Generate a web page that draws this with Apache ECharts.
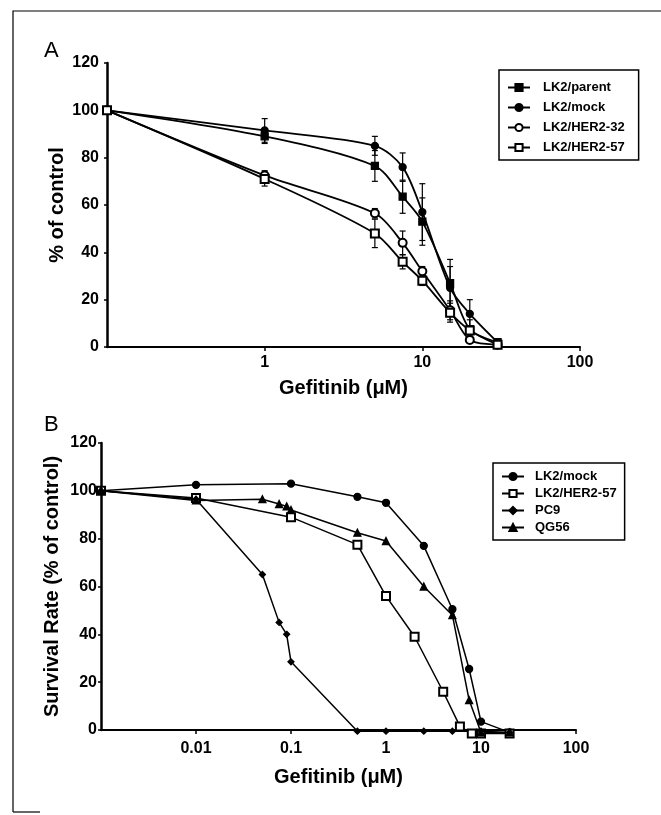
<!DOCTYPE html>
<html>
<head>
<meta charset="utf-8">
<script src="https://cdn.jsdelivr.net/npm/echarts@6/dist/echarts.min.js"></script>
<style>
html,body{margin:0;padding:0;background:#fff;}
#chart{width:661px;height:815px;}
</style>
</head>
<body>
<div id="chart"></div>
<script>
// panel A : doses and % of control (mean, error)
var doseA = [0.1, 1, 5, 7.5, 10, 15, 20, 30];
var parentA = [100, 89, 76.5, 63.5, 53, 27, 7.5, 2];
var parentErrA = [0, 3, 6.5, 7, 10, 10, 4, 0];
var mockA = [100, 91.5, 85, 76, 57, 25, 14, 2];
var mockErrA = [0, 5, 4, 6, 12, 9, 6, 0];
var her32A = [100, 72.5, 56.5, 44, 32, 15.5, 3, 1];
var her32ErrA = [0, 2, 2, 5, 2, 4, 1, 0];
var her57A = [100, 71, 48, 36, 28, 14.5, 7, 1];
var her57ErrA = [0, 3, 6, 3, 2, 4, 2, 0];

// panel B : survival rate
var mockDoseB = [0.001, 0.01, 0.1, 0.5, 1, 2.5, 5, 7.5, 10, 20];
var mockB = [100, 102.5, 103, 97.5, 95, 77, 50.5, 25.5, 3.5, -1];
var her57DoseB = [0.001, 0.01, 0.1, 0.5, 1, 2, 4, 6, 8, 10, 20];
var her57B = [100, 97, 89, 77.5, 56, 39, 16, 1.5, -1.5, -1.5, -1.5];
var pc9DoseB = [0.001, 0.01, 0.05, 0.075, 0.09, 0.1, 0.5, 1, 2.5, 5, 10, 20];
var pc9B = [100, 96.5, 65, 45, 40, 28.5, -0.5, -0.5, -0.5, -0.5, -0.5, -1];
var qgDoseB = [0.001, 0.01, 0.05, 0.075, 0.09, 0.1, 0.5, 1, 2.5, 5, 7.5, 10, 20];
var qgB = [100, 96, 96.5, 94.5, 93.5, 92, 82.5, 79, 60, 48, 12.5, -1, -1];

function pairs(xs, ys) {
    var out = [];
    for (var i = 0; i < xs.length; i++) {
        out.push([xs[i], ys[i]]);
    }
    return out;
}
function errPairs(xs, ys, es) {
    var out = [];
    for (var i = 0; i < xs.length; i++) {
        if (es[i] > 0) out.push([xs[i], ys[i] - es[i], ys[i] + es[i]]);
    }
    return out;
}
function errSeries(name, data) {
    return {
        type: 'custom',
        name: name + ' err',
        xAxisIndex: 0,
        yAxisIndex: 0,
        z: 1,
        silent: true,
        data: data,
        renderItem: function (params, api) {
            var lo = api.coord([api.value(0), api.value(1)]);
            var hi = api.coord([api.value(0), api.value(2)]);
            var w = 3;
            var st = {stroke: '#000', lineWidth: 1.2};
            return {
                type: 'group',
                children: [
                    {type: 'line', shape: {x1: lo[0], y1: lo[1], x2: hi[0], y2: hi[1]}, style: st},
                    {type: 'line', shape: {x1: lo[0] - w, y1: lo[1], x2: lo[0] + w, y2: lo[1]}, style: st},
                    {type: 'line', shape: {x1: hi[0] - w, y1: hi[1], x2: hi[0] + w, y2: hi[1]}, style: st}
                ]
            };
        }
    };
}
function lineSeries(name, data, ax, symbol, size, smooth) {
    return {
        type: 'line',
        name: name,
        xAxisIndex: ax,
        yAxisIndex: ax,
        data: data,
        smooth: smooth,
        symbol: symbol,
        symbolSize: size,
        clip: false,
        z: 3,
        lineStyle: {color: '#000', width: ax === 0 ? 1.8 : 1.5},
        itemStyle: {color: '#000', borderColor: '#000', borderWidth: 1.3}
    };
}

var boldFont = {fontFamily: 'Liberation Sans, Arial, sans-serif', fontWeight: 'bold', color: '#000'};

function xAxisCfg(idx, min, nameGap, labelMargin) {
    return {
        type: 'log',
        logBase: 10,
        gridIndex: idx,
        min: min,
        max: 100,
        name: 'Gefitinib (\u03bcM)',
        nameLocation: 'middle',
        nameGap: nameGap,
        nameMoveOverlap: false,
        nameTextStyle: Object.assign({fontSize: 20}, boldFont),
        axisLine: {lineStyle: {color: '#000', width: 2}},
        axisTick: {length: 4, lineStyle: {color: '#000', width: 1.5}},
        splitLine: {show: false},
        axisLabel: Object.assign({fontSize: 16, margin: labelMargin, showMinLabel: false,
            formatter: function (v) { return v === min ? '' : String(+v.toPrecision(3)); }}, boldFont)
    };
}
function yAxisCfg(idx, name, nameGap, labelMargin) {
    return {
        type: 'value',
        gridIndex: idx,
        min: 0,
        max: 120,
        interval: 20,
        name: name,
        nameLocation: 'middle',
        nameGap: nameGap,
        nameMoveOverlap: false,
        nameTextStyle: Object.assign({fontSize: 20}, boldFont),
        axisLine: {show: true, lineStyle: {color: '#000', width: 2.5}},
        axisTick: {show: true, length: 3, lineStyle: {color: '#000', width: 1.5}},
        splitLine: {show: false},
        axisLabel: Object.assign({fontSize: 16, margin: labelMargin}, boldFont)
    };
}

var chart = echarts.init(document.getElementById('chart'));
var option = {
    backgroundColor: '#fff',
    animation: false,
    grid: [
        {left: 107, top: 63, width: 473, height: 284},
        {left: 101, top: 443, width: 475, height: 287}
    ],
    xAxis: [xAxisCfg(0, 0.1, 31, 8), xAxisCfg(1, 0.001, 37, 11)],
    yAxis: [yAxisCfg(0, '% of control', 40, 8), yAxisCfg(1, 'Survival Rate (% of control)', 39, 4)],
    legend: [
        {
            data: ['LK2/parent', 'LK2/mock', 'LK2/HER2-32', 'LK2/HER2-57'],
            orient: 'vertical',
            left: 499, top: 70,
            padding: [10, 14, 5, 8],
            itemGap: 5,
            itemWidth: 22, itemHeight: 9,
            borderColor: '#000', borderWidth: 1.5,
            selectedMode: false,
            textStyle: Object.assign({fontSize: 13, lineHeight: 15, padding: [0, 0, 0, 8]}, boldFont)
        },
        {
            data: ['LK2/mock', 'LK2/HER2-57', 'PC9', 'QG56'],
            orient: 'vertical',
            left: 493, top: 463,
            padding: [6, 8, 5, 8],
            itemGap: 2,
            itemWidth: 22, itemHeight: 9,
            borderColor: '#000', borderWidth: 1.5,
            selectedMode: false,
            textStyle: Object.assign({fontSize: 13, lineHeight: 15, padding: [0, 0, 0, 6]}, boldFont)
        }
    ],
    graphic: [
        {type: 'polyline', shape: {points: [[13, 812], [13, 11], [661, 11]]}, style: {fill: null, stroke: '#000', lineWidth: 1.2}},
        {type: 'line', shape: {x1: 13, y1: 812, x2: 40, y2: 812}, style: {stroke: '#000', lineWidth: 1.2}},
        {type: 'text', left: 44, top: 40, style: {text: 'A', font: '22px Liberation Sans, Arial, sans-serif', fill: '#000'}},
        {type: 'text', left: 44, top: 414, style: {text: 'B', font: '22px Liberation Sans, Arial, sans-serif', fill: '#000'}}
    ],
    series: [
        errSeries('LK2/parent', errPairs(doseA, parentA, parentErrA)),
        errSeries('LK2/mock', errPairs(doseA, mockA, mockErrA)),
        errSeries('LK2/HER2-32', errPairs(doseA, her32A, her32ErrA)),
        errSeries('LK2/HER2-57', errPairs(doseA, her57A, her57ErrA)),
        lineSeries('LK2/parent', pairs(doseA, parentA), 0, 'rect', 7, 0.3),
        lineSeries('LK2/mock', pairs(doseA, mockA), 0, 'circle', 7, 0.3),
        lineSeries('LK2/HER2-32', pairs(doseA, her32A), 0, 'emptyCircle', 8, 0.3),
        lineSeries('LK2/HER2-57', pairs(doseA, her57A), 0, 'emptyRect', 8, 0.3),
        lineSeries('LK2/mock', pairs(mockDoseB, mockB), 1, 'circle', 7, false),
        lineSeries('LK2/HER2-57', pairs(her57DoseB, her57B), 1, 'emptyRect', 8, false),
        lineSeries('PC9', pairs(pc9DoseB, pc9B), 1, 'diamond', 6, false),
        lineSeries('QG56', pairs(qgDoseB, qgB), 1, 'triangle', 7, false)
    ]
};
chart.setOption(option);
</script>
</body>
</html>
